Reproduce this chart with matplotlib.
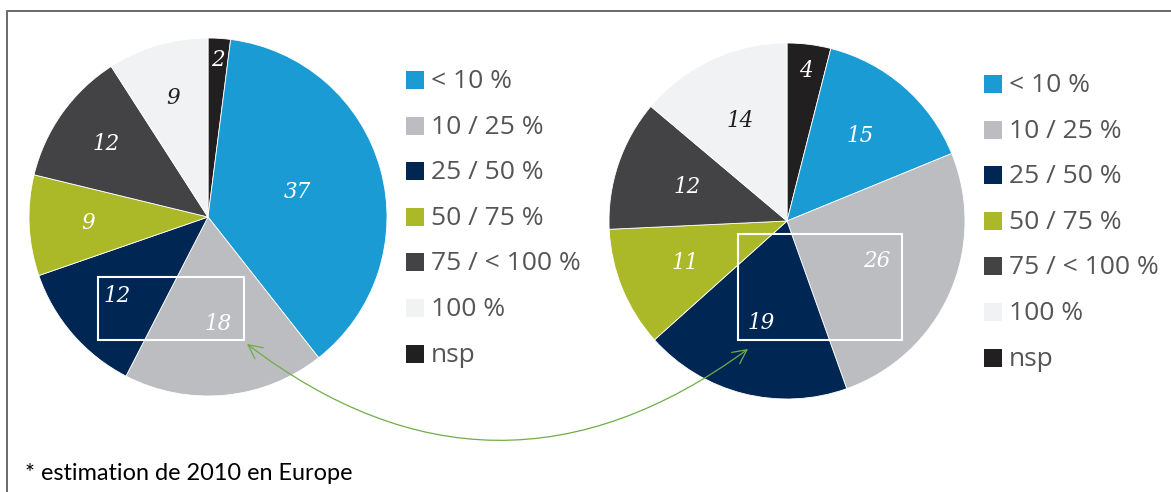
import matplotlib
matplotlib.use("Agg")
import matplotlib.pyplot as plt
import numpy as np
from matplotlib.patches import Rectangle, FancyArrowPatch, ArrowStyle

# ---------------- data ----------------
categories = ["< 10 %", "10 / 25 %", "25 / 50 %", "50 / 75 %", "75 / < 100 %", "100 %", "nsp"]
values_left = [37, 18, 12, 9, 12, 9, 2]
values_right = [15, 26, 19, 11, 12, 14, 4]
footnote = "* estimation de 2010 en Europe"

colors = ["#1a9bd3", "#bcbdc0", "#002654", "#abb929", "#434345", "#f1f2f4", "#221f20"]
label_colors = ["white", "white", "white", "white", "white", "#231f20", "white"]

# pie order clockwise from the top: nsp first, then the rest
pie_order = [6, 0, 1, 2, 3, 4, 5]

# label radius fractions (style) in pie order
label_r_left = [0.88, 0.52, 0.60, 0.67, 0.67, 0.70, 0.69]
label_r_right = [0.85, 0.63, 0.55, 0.59, 0.62, 0.59, 0.62]

W, H = 1171, 492
fig = plt.figure(figsize=(W / 100, H / 100), dpi=100)
ax = fig.add_axes([0, 0, 1, 1])


def Y(y_img):
    return H - y_img


def draw_pie(values, center_img, radius, label_r):
    vals = [values[i] for i in pie_order]
    cols = [colors[i] for i in pie_order]
    cx, cy = center_img[0], Y(center_img[1])
    wedges, _ = ax.pie(vals, colors=cols, startangle=90, counterclock=False,
                       center=(cx, cy), radius=radius, frame=True,
                       wedgeprops=dict(edgecolor="white", linewidth=0.6))
    for w, v, idx, rf in zip(wedges, vals, pie_order, label_r):
        mid = np.deg2rad((w.theta1 + w.theta2) / 2)
        x = cx + rf * radius * np.cos(mid)
        y = cy + rf * radius * np.sin(mid)
        ax.text(x, y, str(v), ha="center", va="center", color=label_colors[idx],
                fontsize=15.5, fontstyle="italic", family="DejaVu Serif")


draw_pie(values_left, (208, 217), 179, label_r_left)
draw_pie(values_right, (787, 221), 178, label_r_right)


def draw_legend(x_sq, y0, step):
    for i, (cat, col) in enumerate(zip(categories, colors)):
        yc = Y(y0 + i * step)
        ax.add_patch(Rectangle((x_sq, yc - 9), 18, 18, facecolor=col, edgecolor="none"))
        ax.text(x_sq + 25, yc - 1.5, cat, ha="left", va="center", color="#555558",
                fontsize=19, family="Open Sans")


draw_legend(406, 80, 45.6)
draw_legend(984, 84, 45.6)

# white highlight boxes
ax.add_patch(Rectangle((98, Y(340)), 146, 63, facecolor="none", edgecolor="white", linewidth=1.5))
ax.add_patch(Rectangle((738, Y(340)), 164, 106, facecolor="none", edgecolor="white", linewidth=1.5))

# green curved double arrow
arr = FancyArrowPatch((247, Y(344)), (748, Y(349)),
                      connectionstyle="arc3,rad=0.373",
                      arrowstyle=ArrowStyle("<->", head_length=0.4, head_width=0.2),
                      mutation_scale=25, color="#70ad47", linewidth=0.9,
                      shrinkA=0, shrinkB=0)
ax.add_patch(arr)

# frame (left and top lines)
ax.plot([7, 7, W], [0, Y(11), Y(11)], color="#6a6a6a", linewidth=1.4, solid_joinstyle="miter")

ax.text(25, Y(474), footnote, ha="left", va="center", color="black",
        fontsize=16.9, family="Lato")

ax.set_xlim(0, W)
ax.set_ylim(0, H)
ax.set_aspect("equal")
ax.axis("off")

fig.savefig("out.png", dpi=100)
